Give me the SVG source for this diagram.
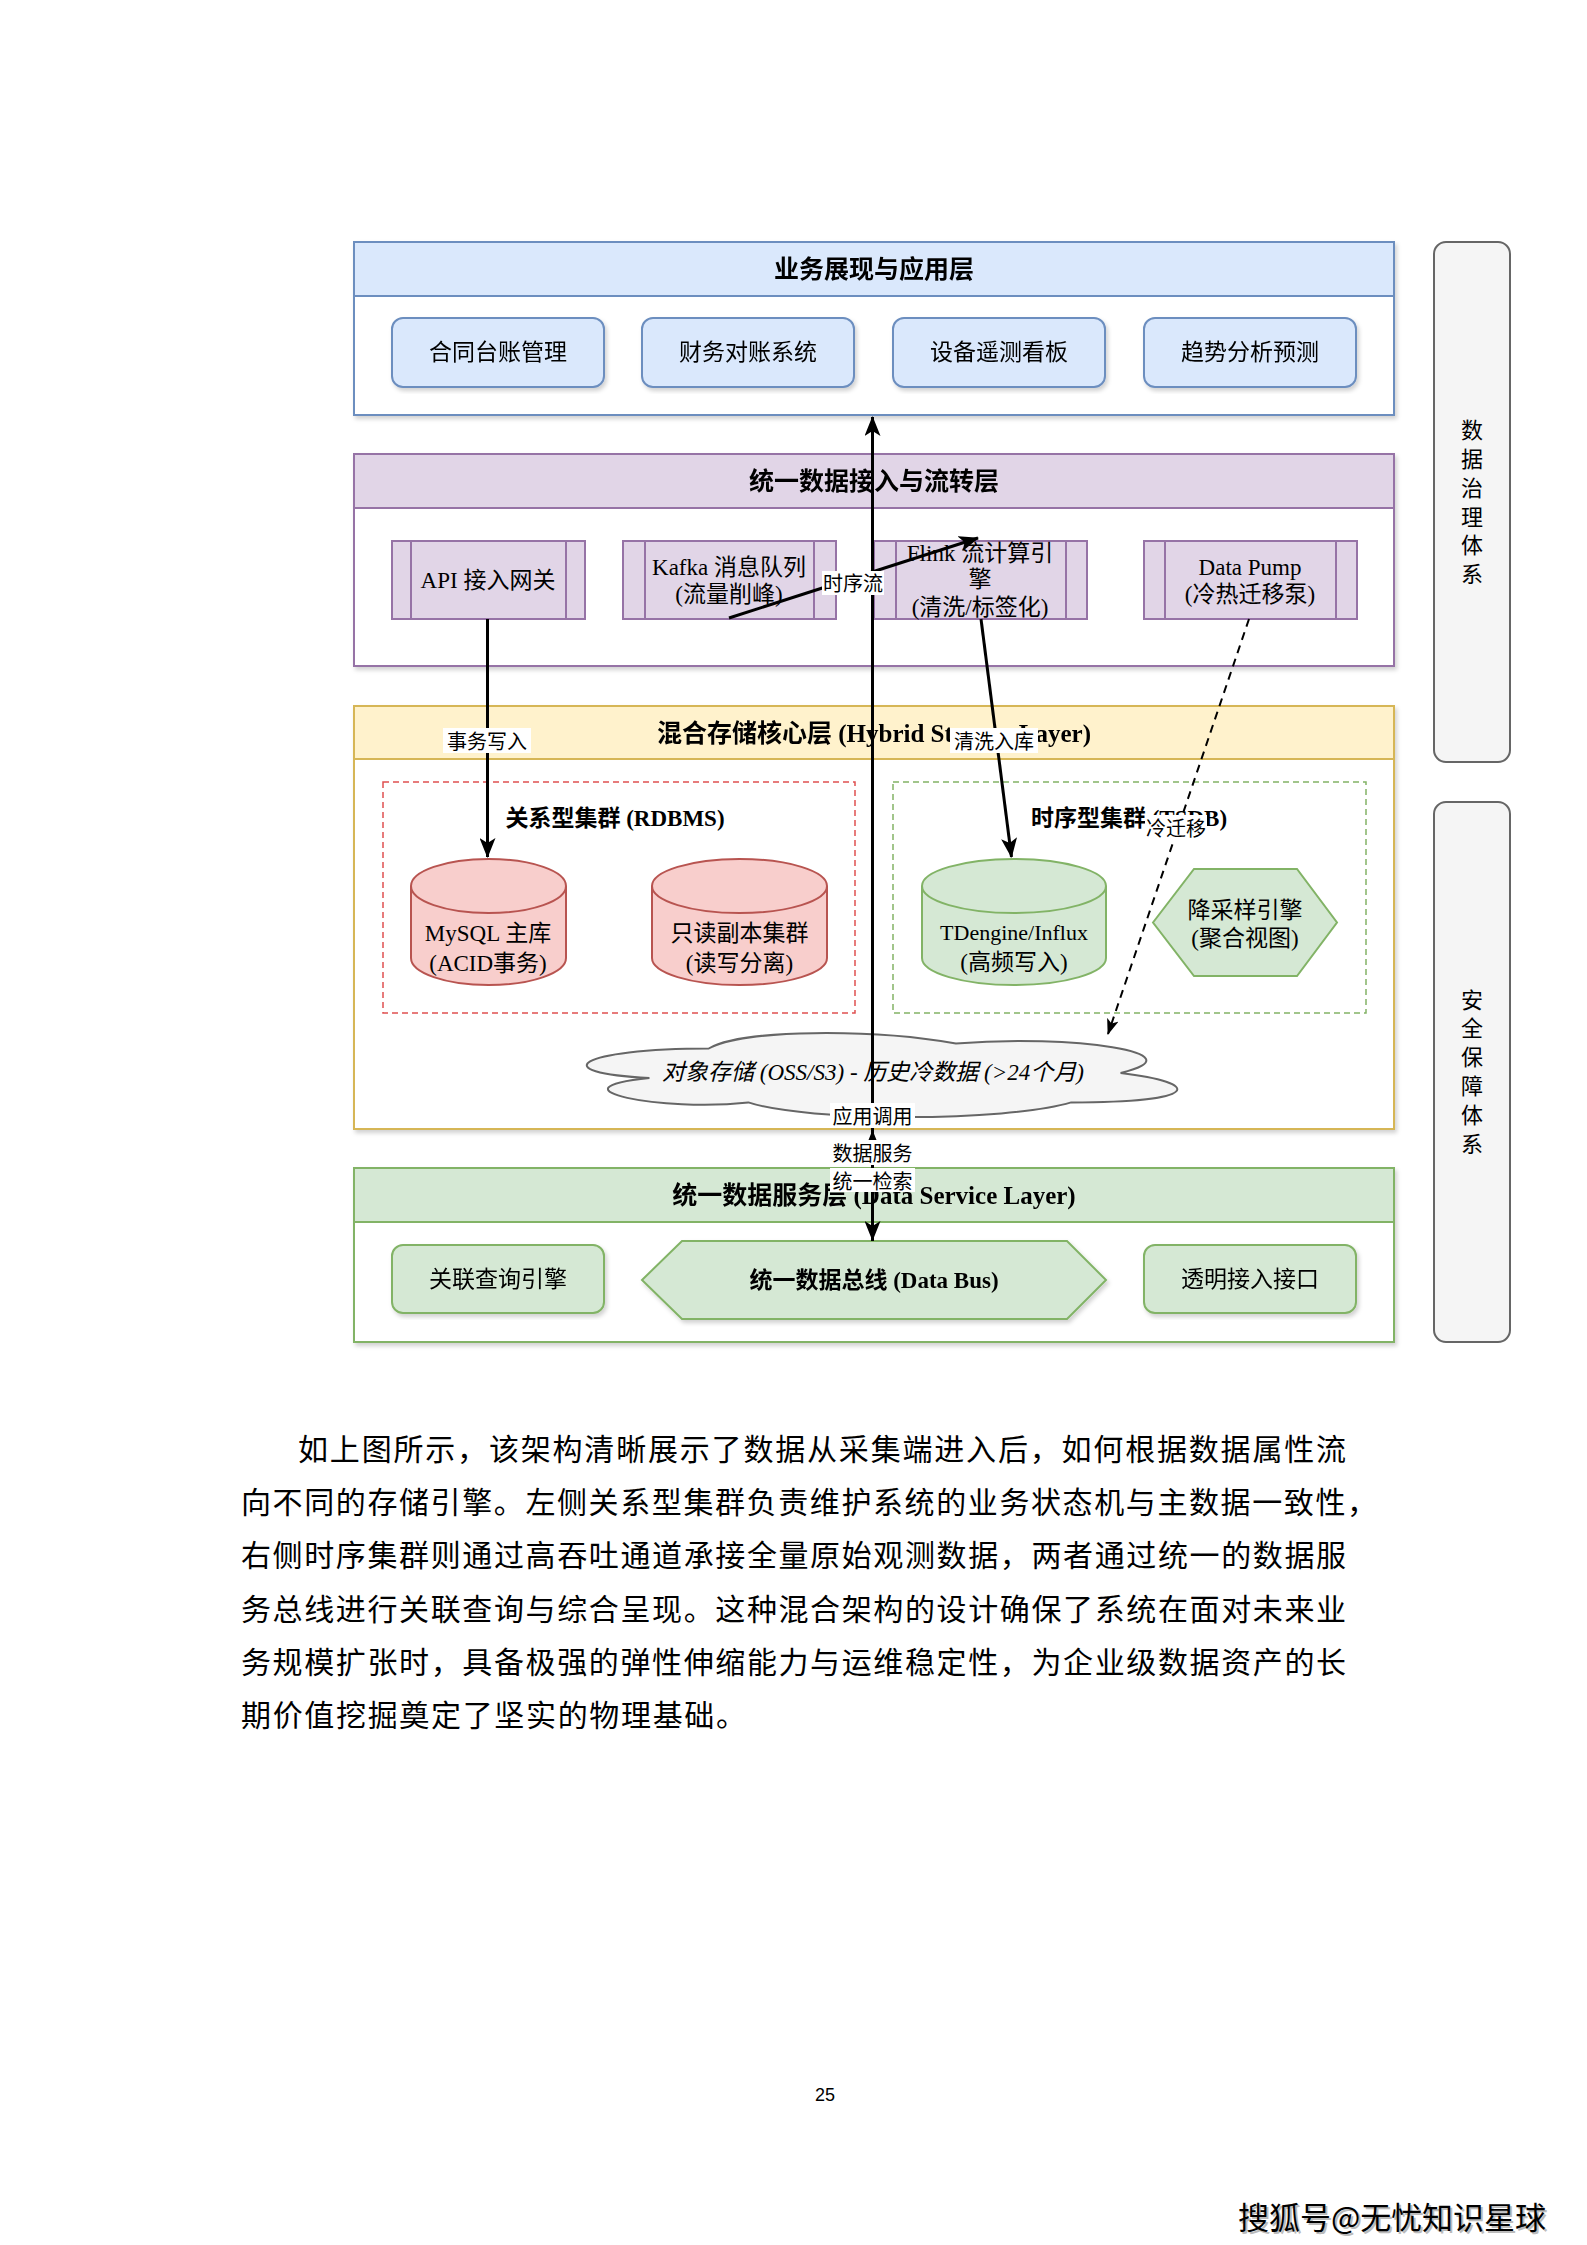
<svg xmlns="http://www.w3.org/2000/svg" width="1587" height="2245" viewBox="0 0 1587 2245">
<defs>
<style>
.t{font-family:"Liberation Serif","Noto Sans CJK SC",serif;font-size:23px;fill:#000;text-anchor:middle;dominant-baseline:central}
.h{font-weight:bold;font-size:25px}
.b{font-weight:bold}
.it{font-style:italic}
.lbl{font-family:"Noto Sans CJK SC","Liberation Sans",sans-serif;font-size:20px;fill:#000;text-anchor:middle;dominant-baseline:central}
.side{font-family:"Noto Sans CJK SC","Liberation Sans",sans-serif;font-size:22px;fill:#000;text-anchor:middle;dominant-baseline:central}
.para{font-family:"Noto Sans CJK SC","Liberation Serif",sans-serif;font-size:30px;fill:#000;dominant-baseline:central}
.bg{fill:#fff}
.edge{stroke:#000;stroke-width:3;fill:none}
.dash{stroke:#000;stroke-width:2;fill:none;stroke-dasharray:8 6}
.blue{fill:#dae8fc;stroke:#6c8ebf;stroke-width:2}
.purple{fill:#e1d5e7;stroke:#9673a6;stroke-width:2}
.yellow{fill:#fff2cc;stroke:#d6b656;stroke-width:2}
.green{fill:#d5e8d4;stroke:#82b366;stroke-width:2}
.red{fill:#f8cecc;stroke:#b85450;stroke-width:2}
.gray{fill:#f5f5f5;stroke:#666;stroke-width:2}
.body{fill:#fff;stroke-width:2}
.ln{fill:none;stroke-width:2}
</style>
<filter id="sh" x="-3%" y="-5%" width="106%" height="115%">
<feDropShadow dx="2" dy="3" stdDeviation="2" flood-color="#000" flood-opacity="0.18"/>
</filter>
<marker id="arr" viewBox="0 0 20 16" refX="19" refY="8" markerWidth="20" markerHeight="16" markerUnits="userSpaceOnUse" orient="auto-start-reverse">
<path d="M0,0 L20,8 L0,16 L5,8 Z" fill="#000"/>
</marker>
<marker id="arrs" viewBox="0 0 16 12" refX="15" refY="6" markerWidth="16" markerHeight="12" markerUnits="userSpaceOnUse" orient="auto">
<path d="M0,0 L16,6 L0,12 L4,6 Z" fill="#000"/>
</marker>
</defs>
<rect x="0" y="0" width="1587" height="2245" fill="#fff"/>

<!-- Layer 1 -->
<g id="layer-app" filter="url(#sh)">
<rect class="body" x="354" y="242" width="1040" height="173" stroke="#6c8ebf"/>
<rect class="blue" x="354" y="242" width="1040" height="54"/>
<text class="t h" x="874" y="269">业务展现与应用层</text>
</g>
<g id="app-contract" filter="url(#sh)"><rect class="blue" x="392" y="318" width="212" height="69" rx="11"/><text class="t" x="498" y="352">合同台账管理</text></g>
<g id="app-finance" filter="url(#sh)"><rect class="blue" x="642" y="318" width="212" height="69" rx="11"/><text class="t" x="748" y="352">财务对账系统</text></g>
<g id="app-device" filter="url(#sh)"><rect class="blue" x="893" y="318" width="212" height="69" rx="11"/><text class="t" x="999" y="352">设备遥测看板</text></g>
<g id="app-trend" filter="url(#sh)"><rect class="blue" x="1144" y="318" width="212" height="69" rx="11"/><text class="t" x="1250" y="352">趋势分析预测</text></g>

<!-- Layer 2 -->
<g id="layer-ingest" filter="url(#sh)">
<rect class="body" x="354" y="454" width="1040" height="212" stroke="#9673a6"/>
<rect class="purple" x="354" y="454" width="1040" height="54"/>
<text class="t h" x="874" y="481">统一数据接入与流转层</text>
</g>
<g id="ingest-api">
<rect class="purple" x="392" y="541" width="193" height="78"/>
<path class="ln" stroke="#9673a6" d="M411,541V619M566,541V619"/>
<text class="t" x="488" y="580">API 接入网关</text>
</g>
<g id="ingest-kafka">
<rect class="purple" x="623" y="541" width="213" height="78"/>
<path class="ln" stroke="#9673a6" d="M645,541V619M814,541V619"/>
<text class="t" x="729" y="567">Kafka 消息队列</text>
<text class="t" x="729" y="594">(流量削峰)</text>
</g>
<g id="ingest-flink">
<rect class="purple" x="874" y="541" width="213" height="78"/>
<path class="ln" stroke="#9673a6" d="M896,541V619M1066,541V619"/>
<text class="t" x="980" y="553">Flink 流计算引</text>
<text class="t" x="980" y="579">擎</text>
<text class="t" x="980" y="607">(清洗/标签化)</text>
</g>
<g id="ingest-pump">
<rect class="purple" x="1144" y="541" width="213" height="78"/>
<path class="ln" stroke="#9673a6" d="M1165,541V619M1336,541V619"/>
<text class="t" x="1250" y="567">Data Pump</text>
<text class="t" x="1250" y="594">(冷热迁移泵)</text>
</g>

<!-- Layer 3 -->
<g id="layer-storage" filter="url(#sh)">
<rect class="body" x="354" y="706" width="1040" height="423" stroke="#d6b656"/>
<rect class="yellow" x="354" y="706" width="1040" height="53"/>
<text class="t h" x="874" y="733">混合存储核心层 (Hybrid Storage Layer)</text>
</g>
<g id="cluster-rdbms">
<rect x="383" y="782" width="472" height="231" fill="none" stroke="#e05050" stroke-width="1.5" stroke-dasharray="6 4"/>
<text class="t b" x="615" y="818">关系型集群 (RDBMS)</text>
</g>
<g id="cluster-tsdb">
<rect x="893" y="782" width="473" height="231" fill="none" stroke="#82b366" stroke-width="1.5" stroke-dasharray="6 4"/>
<text class="t b" x="1129" y="818">时序型集群 (TSDB)</text>
</g>
<g id="db-mysql">
<path class="red" d="M411,886 a77.5,27 0 0 1 155,0 v72 a77.5,27 0 0 1 -155,0 Z"/>
<path class="ln" stroke="#b85450" d="M411,886 a77.5,27 0 0 0 155,0"/>
<text class="t" x="488" y="933">MySQL 主库</text>
<text class="t" x="488" y="963">(ACID事务)</text>
</g>
<g id="db-replica">
<path class="red" d="M652,886 a87.5,27 0 0 1 175,0 v72 a87.5,27 0 0 1 -175,0 Z"/>
<path class="ln" stroke="#b85450" d="M652,886 a87.5,27 0 0 0 175,0"/>
<text class="t" x="739.5" y="933">只读副本集群</text>
<text class="t" x="739.5" y="963">(读写分离)</text>
</g>
<g id="db-tsdb">
<path class="green" d="M922,886 a92,27 0 0 1 184,0 v72 a92,27 0 0 1 -184,0 Z"/>
<path class="ln" stroke="#82b366" d="M922,886 a92,27 0 0 0 184,0"/>
<text class="t" x="1014" y="932" style="font-size:22px">TDengine/Influx</text>
<text class="t" x="1014" y="962">(高频写入)</text>
</g>
<g id="downsample">
<polygon class="green" points="1153,922.5 1194,869 1297,869 1337,922.5 1297,976 1194,976"/>
<text class="t" x="1245" y="910">降采样引擎</text>
<text class="t" x="1245" y="938">(聚合视图)</text>
</g>
<g id="object-storage">
<path class="gray" stroke-width="1.5" d="M708.75,1048.5 C576.95,1048.5 544,1073 649.44,1077.9 C544,1088.68 662.62,1112.2 748.29,1102.4 C807.6,1122 1005.3,1122 1071.2,1102.4 C1203,1102.4 1203,1082.8 1120.6,1073 C1203,1053.4 1071.2,1033.8 955.9,1043.6 C873.5,1028.9 741.7,1028.9 708.75,1048.5 Z"/>
<text class="t it" x="873" y="1072">对象存储 (OSS/S3) - 历史冷数据 (&gt;24个月)</text>
</g>

<!-- Layer 4 -->
<g id="layer-service" filter="url(#sh)">
<rect class="body" x="354" y="1168" width="1040" height="174" stroke="#82b366"/>
<rect class="green" x="354" y="1168" width="1040" height="54"/>
<text class="t h" x="874" y="1195">统一数据服务层 (Data Service Layer)</text>
</g>
<g id="svc-query" filter="url(#sh)"><rect class="green" x="392" y="1245" width="212" height="68" rx="11"/><text class="t" x="498" y="1279">关联查询引擎</text></g>
<g id="svc-bus" filter="url(#sh)"><polygon class="green" points="642,1280 682,1241 1067,1241 1106,1280 1067,1319 682,1319"/><text class="t b" x="874" y="1280">统一数据总线 (Data Bus)</text></g>
<g id="svc-access" filter="url(#sh)"><rect class="green" x="1144" y="1245" width="212" height="68" rx="11"/><text class="t" x="1250" y="1279">透明接入接口</text></g>

<!-- Side panels -->
<g id="governance">
<rect class="gray" x="1434" y="242" width="76" height="520" rx="12"/>
<text class="side"><tspan x="1472" y="428">数</tspan><tspan x="1472" y="457">据</tspan><tspan x="1472" y="486">治</tspan><tspan x="1472" y="515">理</tspan><tspan x="1472" y="543">体</tspan><tspan x="1472" y="572">系</tspan></text>
</g>
<g id="security">
<rect class="gray" x="1434" y="802" width="76" height="540" rx="12"/>
<text class="side"><tspan x="1472" y="998">安</tspan><tspan x="1472" y="1026">全</tspan><tspan x="1472" y="1055">保</tspan><tspan x="1472" y="1084">障</tspan><tspan x="1472" y="1113">体</tspan><tspan x="1472" y="1142">系</tspan></text>
</g>

<!-- Connectors -->
<g id="connectors">
<path class="edge" d="M487.5,619 V857" marker-end="url(#arr)"/>
<path class="edge" d="M729,618 L978,538" marker-end="url(#arr)"/>
<path class="edge" d="M981,619 L1011.5,857" marker-end="url(#arr)"/>
<path class="dash" d="M1249,619 L1108,1034" marker-end="url(#arrs)"/>
<path class="edge" d="M872.5,1241 V417" marker-end="url(#arr)"/>
<path class="edge" d="M872.5,1131 V1240" marker-start="url(#arr)" marker-end="url(#arr)"/>

<rect class="bg" x="443" y="728" width="88" height="25"/>
<text class="lbl" x="487" y="740">事务写入</text>
<rect class="bg" x="822" y="571" width="62" height="24"/>
<text class="lbl" x="853" y="582">时序流</text>
<rect class="bg" x="950" y="728" width="88" height="25"/>
<text class="lbl" x="994" y="740">清洗入库</text>
<rect class="bg" x="1145" y="815" width="62" height="24"/>
<text class="lbl" x="1176" y="827">冷迁移</text>
<rect class="bg" x="830" y="1103" width="85" height="25"/>
<text class="lbl" x="872.5" y="1115">应用调用</text>
<rect class="bg" x="830" y="1140" width="85" height="25"/>
<text class="lbl" x="872.5" y="1152">数据服务</text>
<rect class="bg" x="830" y="1168" width="85" height="24"/>
<text class="lbl" x="872.5" y="1180">统一检索</text>
</g>

<!-- Body text -->
<g id="paragraph">
<text class="para" x="298" y="1447" textLength="1048" lengthAdjust="spacing">如上图所示，该架构清晰展示了数据从采集端进入后，如何根据数据属性流</text>
<text class="para" x="241" y="1500" textLength="1136" lengthAdjust="spacing">向不同的存储引擎。左侧关系型集群负责维护系统的业务状态机与主数据一致性，</text>
<text class="para" x="241" y="1553" textLength="1105" lengthAdjust="spacing">右侧时序集群则通过高吞吐通道承接全量原始观测数据，两者通过统一的数据服</text>
<text class="para" x="241" y="1607" textLength="1105" lengthAdjust="spacing">务总线进行关联查询与综合呈现。这种混合架构的设计确保了系统在面对未来业</text>
<text class="para" x="241" y="1660" textLength="1105" lengthAdjust="spacing">务规模扩张时，具备极强的弹性伸缩能力与运维稳定性，为企业级数据资产的长</text>
<text class="para" x="241" y="1713" textLength="505" lengthAdjust="spacing">期价值挖掘奠定了坚实的物理基础。</text>
</g>
<text x="825" y="2095" font-family="Liberation Sans, sans-serif" font-size="18" text-anchor="middle" dominant-baseline="central" fill="#000">25</text>
<g id="footer">
<text x="1240" y="2217" font-family="Noto Sans CJK SC, sans-serif" font-size="31" dominant-baseline="central" fill="#bbb" textLength="308" lengthAdjust="spacing">搜狐号@无忧知识星球</text>
<text x="1238" y="2215" font-family="Noto Sans CJK SC, sans-serif" font-size="31" dominant-baseline="central" fill="#000" textLength="308" lengthAdjust="spacing">搜狐号@无忧知识星球</text>
</g>
</svg>
